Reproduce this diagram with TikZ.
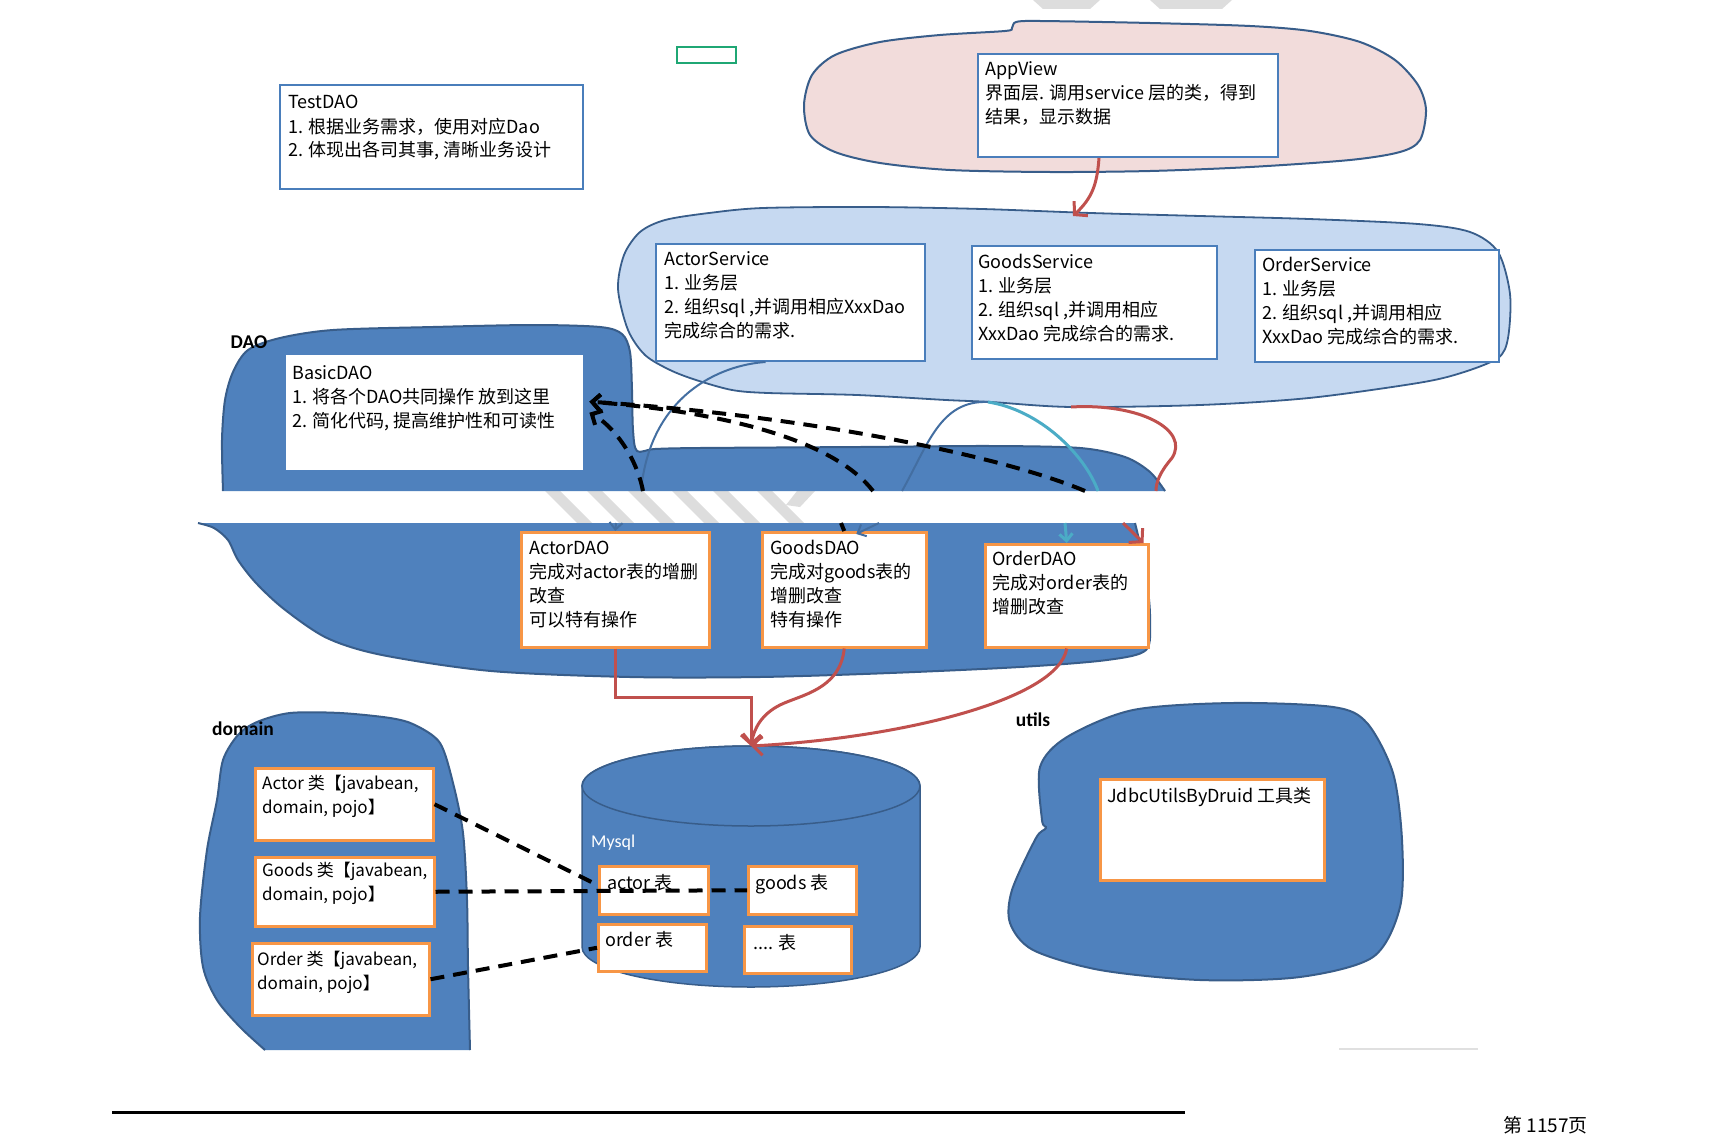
\documentclass[tikz,border=0pt]{standalone}
\usepackage{fontspec}
\setmainfont{Noto Sans CJK SC}
\newfontfamily\lat{Carlito}
\usetikzlibrary{arrows.meta}
\definecolor{dblue}{HTML}{4F81BD}
\definecolor{dline}{HTML}{385D8A}
\definecolor{lblue}{HTML}{C6D9F1}
\definecolor{pinkf}{HTML}{F2DCDB}
\definecolor{oborder}{HTML}{F79646}
\definecolor{bborder}{HTML}{4A7EBB}
\definecolor{redar}{HTML}{C0504D}
\definecolor{cyanar}{HTML}{4BACC6}
\definecolor{wm}{HTML}{DDDDDD}
\definecolor{grn}{HTML}{1FA774}
\begin{document}
\begin{tikzpicture}[x=1pt,y=-1pt,
  bbox/.style={draw=bborder,line width=2pt,fill=white,anchor=north west,inner sep=0pt},
  obox/.style={draw=oborder,line width=2.5pt,fill=white,anchor=north west,inner sep=0pt},
  wbox/.style={fill=white,anchor=north west,inner sep=0pt},
  txt/.style={anchor=north west,inner sep=0pt,align=left,font=\fontsize{18}{24}\selectfont},
  stxt/.style={txt,font=\fontsize{17}{24}\selectfont},
  lbl/.style={font=\lat\bfseries\fontsize{19.5}{21}\selectfont,inner sep=0pt},
  blobline/.style={draw=dline,line width=2pt},
  redline/.style={draw=redar,line width=3pt},
  redarrow/.style={redline,-{Straight Barb[length=9pt,width=20pt]}},
  bluearc/.style={draw=dblue!85!black,line width=2pt},
  bluearrow/.style={bluearc,-{Straight Barb[length=7pt,width=13pt]}},
  cyanarc/.style={draw=cyanar,line width=3pt},
  cyanarrow/.style={cyanarc,-{Straight Barb[length=7pt,width=13pt]}},
  dsh/.style={draw=black,line width=4pt,dash pattern=on 14pt off 9pt},
  dsharrow/.style={dsh,-{Straight Barb[length=8pt,width=16pt]}}
]
\useasboundingbox (0,0) rectangle (1710,1137);
\fill[white] (0,0) rectangle (1710,1137);

% watermark remnants
\fill[wm] (1033,0) -- (1100,0) -- (1090,9) -- (1043,9) -- cycle;
\fill[wm] (1150,0) -- (1232,0) -- (1222,9) -- (1160,9) -- cycle;
\foreach \xx in {545,587,628,672,713,757} \fill[wm] (\xx,491) -- ++(15,0) -- ++(32,32) -- ++(-15,0) -- cycle;
\fill[wm] (797,491) -- (815,491) -- (800,507) -- (786,505) -- cycle;

% small green rectangle
\draw[grn,line width=2pt] (677,47) rectangle (736,63);

% AppView blob
\draw[blobline,fill=pinkf] plot[smooth cycle,tension=0.5] coordinates {(804,105) (812,75) (835,55) (880,42) (940,35) (1005,31) (1012,28) (1016,22) (1040,21) (1150,23) (1250,26) (1310,31) (1360,42) (1395,60) (1418,85) (1426,110) (1420,140) (1400,152) (1350,160) (1250,167) (1150,171) (1050,172) (950,170) (880,163) (835,152) (810,135)};

% Service blob
\draw[draw=dline,line width=1.8pt,fill=lblue] plot[smooth cycle,tension=0.5] coordinates {(618,289) (624,255) (640,232) (665,220) (709,213) (763,208) (872,207) (982,209) (1091,213) (1200,216) (1309,219) (1418,224) (1470,232) (1498,252) (1510,294) (1508,338) (1498,358) (1461,373) (1418,383) (1309,398) (1200,405) (1071,407) (991,402) (946,400) (857,395) (768,393) (732,390) (696,380) (670,370) (645,355) (628,330)};

% DAO blob, upper part
\draw[blobline,fill=dblue] plot[smooth,tension=0.5] coordinates {(223,491) (222,440) (225,400) (233,372) (248,350) (280,338) (333,330) (433,327) (533,325) (600,327) (622,334) (630,352) (632,390) (633,430) (637,451) (655,449) (700,448) (860,447) (990,446) (1080,448) (1125,457) (1150,472) (1165,491)};
% DAO blob, lower part
\draw[blobline,fill=dblue] plot[smooth,tension=0.5] coordinates {(1135,523) (1142,553) (1148,590) (1150,620) (1146,650) (1107,660) (1020,667) (890,673) (760,677) (630,677) (491,671) (382,655) (327,638) (284,609) (256,583) (238,560) (228,540) (214,528) (198,523)};

% domain blob
\draw[blobline,fill=dblue] plot[smooth,tension=0.5] coordinates {(470,1050) (468,967) (467,900) (463,833) (453,783) (440,743) (415,725) (390,718) (340,713) (290,713) (257,722) (238,735) (223,760) (217,800) (207,850) (200,917) (203,967) (217,1000) (240,1027) (265,1050)};

% utils blob
\draw[blobline,fill=dblue] plot[smooth cycle,tension=0.5] coordinates {(1040,767) (1067,737) (1133,710) (1233,703) (1333,707) (1367,723) (1393,773) (1402,840) (1400,907) (1373,957) (1300,977) (1200,980) (1100,970) (1033,950) (1010,923) (1012,890) (1036,838) (1046,828) (1042,820)};

% Mysql cylinder
\draw[draw=dline,line width=1.5pt,fill=dblue] (582,786) -- (582,947) arc[start angle=180,end angle=0,x radius=169,y radius=40] -- (920,786) arc[start angle=0,end angle=-180,x radius=169,y radius=40] -- cycle;
\draw[draw=dline,line width=1.5pt] (751,786) ellipse[x radius=169,y radius=40];
\node[anchor=west,inner sep=0pt,text=white,font=\lat\fontsize{18}{20}\selectfont] (mysql) at (591,843) {Mysql};

% boxes
\node[bbox,minimum width=303pt,minimum height=104pt] (testdao) at (279,84) {};
\node[txt] (testdao-t) at (288,92) {\strut TestDAO\\1. 根据业务需求，使用对应Dao\\2. 体现出各司其事, 清晰业务设计};

\node[bbox,minimum width=300pt,minimum height=103pt] (appview) at (977,53) {};
\node[txt] (appview-t) at (985,59) {\strut AppView\\界面层. 调用service 层的类，得到\\结果，显示数据};

\node[bbox,minimum width=269pt,minimum height=117pt] (actorsvc) at (655,243) {};
\node[txt] (actorsvc-t) at (664,248) {\strut ActorService\\1. 业务层\\2. 组织sql ,并调用相应XxxDao\\完成综合的需求.};

\node[bbox,minimum width=245pt,minimum height=113pt] (goodssvc) at (971,245) {};
\node[txt] (goodssvc-t) at (978,251) {\strut GoodsService\\1. 业务层\\2. 组织sql ,并调用相应\\XxxDao 完成综合的需求.};

\node[bbox,minimum width=244pt,minimum height=112pt] (ordersvc) at (1254,249) {};
\node[txt] (ordersvc-t) at (1262,254) {\strut OrderService\\1. 业务层\\2. 组织sql ,并调用相应\\XxxDao 完成综合的需求.};

\node[wbox,minimum width=297pt,minimum height=115pt] (basicdao) at (286,355) {};
\node[txt] (basicdao-t) at (292,362) {\strut BasicDAO\\1. 将各个DAO共同操作 放到这里\\2.  简化代码, 提高维护性和可读性};

\node[obox,minimum width=188pt,minimum height=115pt] (actordao) at (520,531) {};
\node[txt] (actordao-t) at (529,537) {\strut ActorDAO\\完成对actor表的增删\\改查\\可以特有操作};

\node[obox,minimum width=164pt,minimum height=115pt] (goodsdao) at (761,531) {};
\node[txt] (goodsdao-t) at (770,537) {\strut GoodsDAO\\完成对goods表的\\增删改查\\特有操作};

\node[obox,minimum width=163pt,minimum height=103pt] (orderdao) at (984,543) {};
\node[txt] (orderdao-t) at (992,548) {\strut OrderDAO\\完成对order表的\\增删改查};

\node[obox,minimum width=178pt,minimum height=72pt] (actorcls) at (254,767) {};
\node[stxt] (actorcls-t) at (262,772) {\strut Actor 类【javabean,\\domain, pojo】};

\node[obox,minimum width=179pt,minimum height=69pt] (goodscls) at (254,856) {};
\node[stxt] (goodscls-t) at (262,859) {\strut Goods 类【javabean,\\domain, pojo】};

\node[obox,minimum width=177pt,minimum height=72pt] (ordercls) at (251,942) {};
\node[stxt] (ordercls-t) at (257,948) {\strut Order 类【javabean,\\domain, pojo】};

\node[obox,minimum width=109pt,minimum height=48pt] (tactor) at (598,865) {};
\node[txt] (tactor-t) at (607,872) {\strut actor 表};
\node[obox,minimum width=108pt,minimum height=48pt] (tgoods) at (747,865) {};
\node[txt] (tgoods-t) at (755,872) {\strut goods 表};
\node[obox,minimum width=108pt,minimum height=47pt] (torder) at (597,923) {};
\node[txt] (torder-t) at (605,929) {\strut order 表};
\node[obox,minimum width=107pt,minimum height=47pt] (tmore) at (743,925) {};
\node[txt] (tmore-t) at (753,932) {\strut .... 表};

\node[obox,minimum width=224pt,minimum height=101pt] (jdbc) at (1099,778) {};
\node[txt] (jdbc-t) at (1107,785) {\strut JdbcUtilsByDruid 工具类};

% free ends of connectors (blob edges and the page gap)
\coordinate (svctop) at (1073,216);
\coordinate (svcbot) at (988,402);
\coordinate (svcred) at (1071,407);
\coordinate (gA) at (643,491);
\coordinate (gB) at (873,491);
\coordinate (gB2) at (841,523);
\coordinate (gC) at (1085,491);
\coordinate (gA1) at (641,491);
\coordinate (gA2) at (616,523);
\coordinate (gG1) at (902,491);
\coordinate (gG2) at (879,523);
\coordinate (gO1) at (1098,491);
\coordinate (gO2) at (1065,523);
\coordinate (gR1) at (1156,491);
\coordinate (gR2) at (1123,523);
\coordinate (mysqltop) at (751,746);

% AppView -> services
\draw[redarrow] ([xshift=-29pt]appview.south) .. controls (1097,185) and (1092,198) .. (svctop);

% services -> DAO (upper pieces)
\draw[bluearc] ([xshift=-25pt]actorsvc.south) .. controls (720,365) and (650,395) .. (gA1);
\draw[bluearc] (svcbot) .. controls (940,400) and (928,445) .. (gG1);
\draw[cyanarc] (svcbot) .. controls (1040,410) and (1085,455) .. (gO1);
\draw[redline] (svcred) .. controls (1140,403) and (1190,430) .. (1172,458) .. controls (1160,472) and (1156,482) .. (gR1);
% services -> DAO (lower pieces)
\draw[bluearrow] (gA2) -- (actordao.north);
\draw[bluearrow] (gG2) -- ([xshift=12pt,yshift=-3pt]goodsdao.north);
\draw[cyanarrow] (gO2) -- (orderdao.north);
\draw[redarrow] (gR2) -- ([xshift=-6pt]orderdao.north east);

% DAO -> BasicDAO (dashed)
\draw[dsharrow] (gA) .. controls (636,455) and (612,425) .. ([xshift=6pt]basicdao.east);
\draw[dsharrow] (gB) .. controls (840,448) and (750,414) .. ([xshift=6pt,yshift=11pt]basicdao.east);
\draw[dsharrow] (gC) .. controls (1000,455) and (800,415) .. ([xshift=6pt,yshift=11pt]basicdao.east);
\draw[draw=black,line width=4pt] (gB2) -- (goodsdao.north);

% DAO -> Mysql
\draw[redarrow] ([xshift=0pt]actordao.south) -- ++(0,49) -| (mysqltop);
\draw[redarrow] (goodsdao.south) .. controls (840,690) and (800,695) .. (780,705) .. controls (762,714) and (754,728) .. (mysqltop);
\draw[redarrow] (orderdao.south) .. controls (1058,700) and (900,738) .. (mysqltop);

% domain -> tables (dashed)
\draw[dsh] (actorcls.east) -- ([yshift=5pt]tactor.west);
\draw[dsh] (goodscls.east) -- (tgoods.west);
\draw[dsh] (ordercls.east) -- (torder.west);

% labels
\node[lbl] (daolbl) at (249,342) {DAO};
\node[lbl] (domainlbl) at (243,729) {domain};
\node[lbl] (utilslbl) at (1033,720) {utils};

% footer
\draw[black,line width=3pt] (112,1112) -- (1185,1112);
\draw[black!12,line width=2pt] (1339,1049) -- (1478,1049);
\node[anchor=base west,inner sep=0pt,font=\fontsize{19}{21}\selectfont] (pageno) at (1503,1132) {第 1157页};
\end{tikzpicture}
\end{document}
